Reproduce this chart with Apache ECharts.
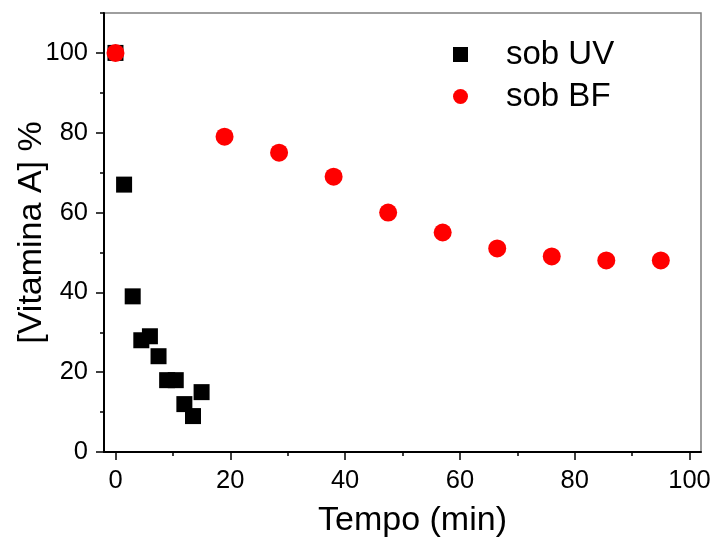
<!DOCTYPE html>
<html>
<head>
<meta charset="utf-8">
<script src="https://cdn.jsdelivr.net/npm/echarts@6/dist/echarts.min.js"></script>
<style>
html,body{margin:0;padding:0;background:#fff;}
#chart{width:713px;height:538px;}
</style>
</head>
<body>
<div id="chart"></div>
<script>
// Data
const uvTime = [0, 1.5, 3, 4.5, 6, 7.5, 9, 10.5, 12, 13.5, 15];
const uvValue = [100, 67, 39, 28, 29, 24, 18, 18, 12, 9, 15];
const bfTime = [0, 19, 28.5, 38, 47.5, 57, 66.5, 76, 85.5, 95];
const bfValue = [100, 79, 75, 69, 60, 55, 51, 49, 48, 48];
const xMajorTicks = [0, 20, 40, 60, 80, 100];
const xMinorTicks = [10, 30, 50, 70, 90];
const yMajorTicks = [0, 20, 40, 60, 80, 100];
const yMinorTicks = [10, 30, 50, 70, 90, 110];
const seriesNames = ['sob UV', 'sob BF'];
const xTitle = 'Tempo (min)';
const yTitle = '[Vitamina A] %';

const FONT = 'Liberation Sans, Arial, sans-serif';
const chart = echarts.init(document.getElementById('chart'), null, {renderer: 'canvas'});

const xRange = {min: -2, max: 102};
const yRange = {min: 0, max: 110};

const option = {
  animation: false,
  backgroundColor: '#fff',
  grid: {left: 104, right: 12, top: 13, bottom: 86, show: true, borderColor: '#7f7f7f', borderWidth: 1.5, containLabel: false, outerBoundsMode: 'none'},
  legend: {
    orient: 'vertical',
    left: 448,
    top: 33,
    itemWidth: 15,
    itemHeight: 15,
    itemGap: 9,
    textStyle: {fontFamily: FONT, fontSize: 33, color: '#000', padding: [0, 0, 0, 33]},
    data: [{name: seriesNames[0], icon: 'rect'}, {name: seriesNames[1], icon: 'circle'}]
  },
  xAxis: [
    {
      type: 'value', position: 'bottom', min: xRange.min, max: xRange.max,
      name: xTitle, nameLocation: 'middle', nameGap: 52, nameMoveOverlap: false,
      nameTextStyle: {fontFamily: FONT, fontSize: 34, color: '#000', padding: [0, 0, 0, 20]},
      axisLine: {show: true, onZero: false, lineStyle: {color: '#000', width: 2}},
      axisTick: {show: true, inside: false, length: 8, lineStyle: {color: '#000', width: 1.5}, customValues: xMajorTicks},
      axisLabel: {show: true, margin: 16, fontFamily: FONT, fontSize: 25.5, color: '#000', customValues: xMajorTicks},
      splitLine: {show: false}
    },
    {
      type: 'value', position: 'bottom', min: xRange.min, max: xRange.max,
      axisLine: {show: false, onZero: false},
      axisTick: {show: true, inside: false, length: 4, lineStyle: {color: '#000', width: 1.5}, customValues: xMinorTicks},
      axisLabel: {show: false},
      splitLine: {show: false}
    }
  ],
  yAxis: [
    {
      type: 'value', position: 'left', min: yRange.min, max: yRange.max,
      name: yTitle, nameLocation: 'middle', nameGap: 55, nameMoveOverlap: false,
      nameTextStyle: {fontFamily: FONT, fontSize: 34, color: '#000'},
      axisLine: {show: true, onZero: false, lineStyle: {color: '#000', width: 2}},
      axisTick: {show: true, inside: false, length: 8, lineStyle: {color: '#000', width: 1.5}, customValues: yMajorTicks},
      axisLabel: {show: true, margin: 16, fontFamily: FONT, fontSize: 25.5, color: '#000', customValues: yMajorTicks},
      splitLine: {show: false}
    },
    {
      type: 'value', position: 'left', min: yRange.min, max: yRange.max,
      axisLine: {show: false, onZero: false},
      axisTick: {show: true, inside: false, length: 4, lineStyle: {color: '#000', width: 1.5}, customValues: yMinorTicks},
      axisLabel: {show: false},
      splitLine: {show: false}
    }
  ],
  series: [
    {
      name: seriesNames[0], type: 'scatter', symbol: 'rect', symbolSize: 16,
      itemStyle: {color: '#000', opacity: 1},
      data: uvTime.map((t, i) => [t, uvValue[i]]), z: 2
    },
    {
      name: seriesNames[1], type: 'scatter', symbol: 'circle', symbolSize: 18,
      itemStyle: {color: '#ff0000', opacity: 1},
      data: bfTime.map((t, i) => [t, bfValue[i]]), z: 3
    }
  ]
};
chart.setOption(option);
</script>
</body>
</html>
